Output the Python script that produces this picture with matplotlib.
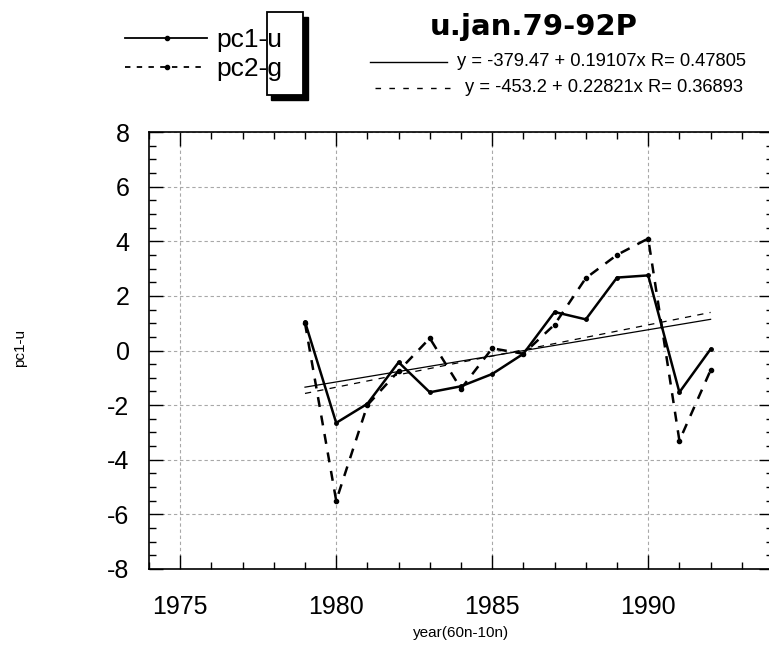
import matplotlib
matplotlib.use("Agg")
import matplotlib.pyplot as plt
import numpy as np
from matplotlib.lines import Line2D
from matplotlib.patches import Rectangle
from matplotlib.ticker import MultipleLocator

plt.rcParams['font.family'] = ['Liberation Sans', 'DejaVu Sans']
plt.rcParams['axes.unicode_minus'] = False

years = [1979, 1980, 1981, 1982, 1983, 1984, 1985, 1986, 1987, 1988, 1989, 1990, 1991, 1992]
pc1 = [1.05, -2.65, -1.95, -0.43, -1.53, -1.31, -0.86, -0.12, 1.41, 1.14, 2.67, 2.75, -1.53, 0.05]
pc2 = [1.0, -5.5, -2.0, -0.75, 0.45, -1.4, 0.08, -0.12, 0.95, 2.65, 3.5, 4.1, -3.3, -0.72]
fit1 = [-379.47, 0.19107, 0.47805]
fit2 = [-453.2, 0.22821, 0.36893]
title = "u.jan.79-92P"
xlabel = "year(60n-10n)"
ylabel = "pc1-u"
labels = ["pc1-u", "pc2-g"]

W, H = 769, 646
fig = plt.figure(figsize=(W / 100, H / 100), dpi=100)

def fx(x):
    return x / W

def fy(y):
    return 1 - y / H

left, right, top, bottom = 149, 773, 132, 569
ax = fig.add_axes([fx(left), fy(bottom), (right - left) / W, (bottom - top) / H])

yrs = np.array(years, dtype=float)
ax.plot(yrs, pc1, color='black', lw=1.8, marker='o', ms=2.5, zorder=4)
ax.plot(yrs, pc2, color='black', lw=1.8, ls=(0, (4, 3.5)), marker='o', ms=3, zorder=3)
xf = np.array([years[0], years[-1]], dtype=float)
ax.plot(xf, fit1[0] + fit1[1] * xf, color='black', lw=0.9, zorder=5)
ax.plot(xf, fit2[0] + fit2[1] * xf, color='black', lw=0.9, ls=(0, (5, 5)), zorder=5)

ax.set_xlim(1974, 1994)
ax.set_ylim(-8, 8)
ax.xaxis.set_major_locator(MultipleLocator(5))
ax.xaxis.set_minor_locator(MultipleLocator(1))
ax.yaxis.set_major_locator(MultipleLocator(2))
ax.yaxis.set_minor_locator(MultipleLocator(0.5))
ax.tick_params(which='both', direction='in', top=True, right=True, width=1.0)
ax.tick_params(which='major', length=10)
ax.tick_params(which='minor', length=5)
ax.tick_params(axis='x', which='major', pad=19, labelsize=18)
ax.tick_params(axis='y', which='major', pad=14, labelsize=18)
ax.grid(True, which='major', color='#a8a8a8', lw=0.8, ls=(0, (3, 2.5)))
for s in ax.spines.values():
    s.set_linewidth(1.2)

fig.text(fx(461), fy(633), xlabel, ha='center', va='center', fontsize=11)
fig.text(fx(20), fy(348), ylabel, ha='center', va='center', rotation=90, fontsize=11)
fig.text(fx(534), fy(27), title, ha='center', va='center', fontsize=21,
         fontweight='bold', family='DejaVu Sans')

# series legend
fig.add_artist(Rectangle((fx(271), fy(100)), fx(37), (100 - 17) / H, facecolor='black',
                         edgecolor='black', transform=fig.transFigure, zorder=1))
fig.add_artist(Rectangle((fx(267), fy(95)), fx(36), (95 - 12) / H, facecolor='white',
                         edgecolor='black', lw=1.3, transform=fig.transFigure, zorder=2))
for yl, ls, lab in [(38, '-', labels[0]), (67, (0, (3, 3.5)), labels[1])]:
    fig.add_artist(Line2D([fx(125), fx(207)], [fy(yl), fy(yl)], color='black',
                          lw=1.3, ls=ls, transform=fig.transFigure, zorder=3))
    fig.add_artist(Line2D([fx(167)], [fy(yl)], color='black', marker='o', ms=3,
                          transform=fig.transFigure, zorder=3))
    fig.text(fx(216), fy(yl + 2), lab, ha='left', va='center', fontsize=19, zorder=5)

# fit legend
fig.add_artist(Line2D([fx(370), fx(447)], [fy(62), fy(62)], color='black', lw=1.0,
                      transform=fig.transFigure))
fig.text(fx(457), fy(62), "y = -379.47 + 0.19107x R= %.5f" % fit1[2], ha='left',
         va='center', fontsize=13.2)
fig.add_artist(Line2D([fx(375), fx(457)], [fy(88), fy(88)], color='black', lw=1.0,
                      ls=(0, (4, 6)), transform=fig.transFigure))
fig.text(fx(465), fy(88), "y = -453.2 + 0.22821x R= %.5f" % fit2[2], ha='left',
         va='center', fontsize=13.2)

fig.savefig("out.png", dpi=100)
